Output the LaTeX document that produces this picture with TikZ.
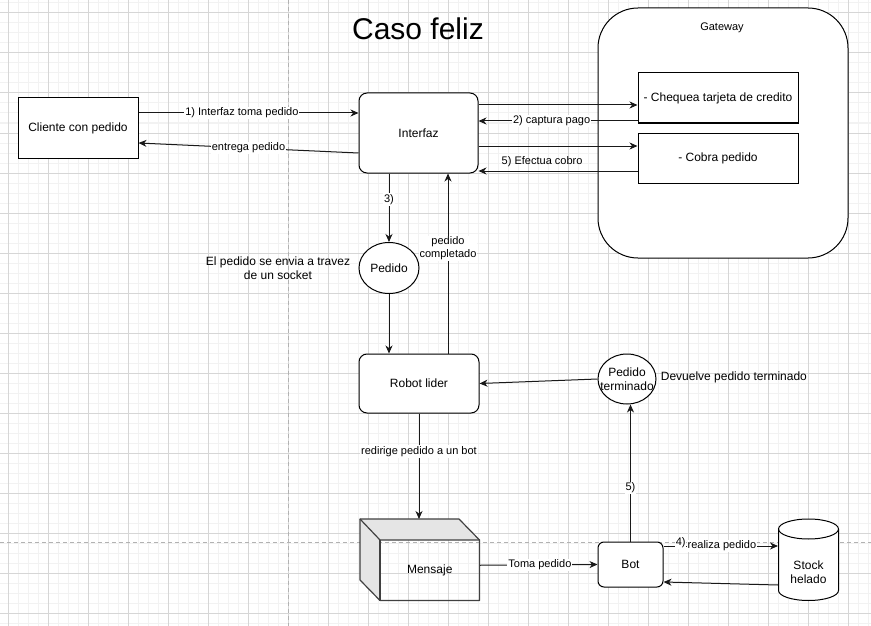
\documentclass[tikz,border=0pt]{standalone}
\usepackage{fontspec}
\setmainfont{Liberation Sans}
\usetikzlibrary{arrows.meta,shapes.geometric}
\begin{document}
\begin{tikzpicture}[x=1pt,y=-1pt,line width=1pt,
  minorgrid/.style={draw=black!5,line width=1pt},
  majorgrid/.style={draw=black!16,line width=1pt},
  pagebreak/.style={draw=black!30,line width=1pt,dash pattern=on 4pt off 3pt},
  txt/.style={font=\fontsize{12}{14}\selectfont,text=black},
  small/.style={font=\fontsize{11}{13}\selectfont,text=black},
  sqbox/.style={txt,draw=black,fill=white,inner sep=0pt},
  rbox/.style={sqbox,rounded corners=8pt},
  oval/.style={draw=black,fill=white,ellipse,inner sep=0pt},
  flow/.style={draw=black!90,-{Stealth[length=8pt,width=7pt,inset=2.5pt]}},
  elab/.style={small,fill=white,inner sep=1pt}]
\useasboundingbox (0,0) rectangle (871,626);
\fill[white] (0,0) rectangle (871,626);
% grid
\foreach \x in {8,18,...,868} \draw[minorgrid] (\x,0) -- (\x,626);
\foreach \y in {3,13,...,623} \draw[minorgrid] (0,\y) -- (871,\y);
\foreach \x in {8,48,...,868} \draw[majorgrid] (\x,0) -- (\x,626);
\foreach \y in {13,53,...,613} \draw[majorgrid] (0,\y) -- (871,\y);
\draw[pagebreak] (288,0) -- (288,626);
\draw[pagebreak] (0,542) -- (871,542);

% title
\node[font=\fontsize{30}{34}\selectfont] (title) at (418,29) {Caso feliz};

% nodes
\node[sqbox,minimum width=120pt,minimum height=60pt] (cli) at (78,128) {Cliente con pedido};
\node[rbox,minimum width=119pt,minimum height=80pt] (intf) at (418.5,133) {Interfaz};
\node[sqbox,rounded corners=40pt,minimum width=250pt,minimum height=250pt] (gw) at (723,133) {};
\node[small] (gwl) at (722,28) {Gateway};
\node[sqbox,minimum width=160pt,minimum height=50pt] (cheq) at (718,98) {- Chequea tarjeta de credito};
\node[sqbox,minimum width=160pt,minimum height=50pt] (cobra) at (718,158) {- Cobra pedido};
\node[oval,minimum width=60pt,minimum height=51pt,txt] (ped) at (389,268) {Pedido};
\node[txt,align=center] (sock) at (278,268) {El pedido se envia a travez\\de un socket};
\node[rbox,minimum width=120pt,minimum height=59pt] (robot) at (419,383.5) {Robot lider};
\node[oval,minimum width=58pt,minimum height=50pt,
  label={[txt,align=center]center:Pedido\\terminado}] (pterm) at (627,379) {};
\node[txt,anchor=west] (dev) at (657,377) {Devuelve pedido terminado};

% cube Mensaje
\fill[black!10] (360,519) -- (459,519) -- (479.5,540) -- (380,540) -- (380,600.5) -- (360,580) -- cycle;
\draw[black!75,line width=1.2pt,line join=round] (360,519) -- (459,519) -- (479.5,540) -- (479.5,600.5) -- (380,600.5) -- (360,580) -- cycle;
\draw[black!75,line width=1.2pt] (360,519) -- (380,540) -- (479.5,540);
\draw[black!75,line width=1.2pt] (380,540) -- (380,600.5);
\node[txt,minimum width=99.5pt,minimum height=60.5pt,inner sep=0pt] (msg) at (429.75,570.25) {Mensaje};
\coordinate (mtop) at (419,519);

\node[rbox,rounded corners=6pt,minimum width=65pt,minimum height=45pt] (bot) at (630.5,564.5) {Bot};

% cylinder Stock
\fill[white] (778.5,529) -- (778.5,590.5) arc[start angle=180,end angle=360,x radius=30pt,y radius=10pt] -- (838.5,529) arc[start angle=0,end angle=180,x radius=30pt,y radius=10pt] -- cycle;
\draw (778.5,529) -- (778.5,590.5) arc[start angle=180,end angle=360,x radius=30pt,y radius=10pt] -- (838.5,529);
\draw (808.5,529) ellipse[x radius=30pt,y radius=10pt];
\node[txt,minimum width=60pt,minimum height=82pt,inner sep=0pt,align=center] (stock) at (808.5,560) {};
\node[txt,align=center] (stockl) at (808.5,572) {Stock\\helado};

% connectors
\draw[flow] ([yshift=15pt]cli.east) -- node[elab,pos=0.47]{1) Interfaz toma pedido} ([yshift=20pt]intf.west);
\draw[flow] ([yshift=-20pt]intf.west) -- node[elab,pos=0.5]{entrega pedido} ([yshift=-15pt]cli.east);
\draw[flow] ([yshift=28pt]intf.east) -- ([yshift=-7pt]cheq.west);
\draw[flow] ([yshift=-23pt]cheq.west) -- node[elab,pos=0.54]{2) captura pago} ([yshift=12pt]intf.east);
\draw[flow] ([yshift=-13pt]intf.east) -- ([yshift=12pt]cobra.west);
\draw[flow] ([yshift=-13pt]cobra.west) -- node[small,pos=0.6,above=0pt]{5) Efectua cobro} ([yshift=-38pt]intf.east);
\draw[flow] ([xshift=-29.5pt]intf.south) -- node[elab,pos=0.38]{3)} (ped.north);
\draw[flow] (ped.south) -- ([xshift=-30pt]robot.north);
\draw[flow] ([xshift=29pt]robot.north) -- node[elab,align=center,pos=0.585]{pedido\\completado} ([xshift=29.5pt]intf.south);
\draw[flow] (pterm.west) -- (robot.east);
\draw[flow] (robot.south) -- node[elab,pos=0.36]{redirige pedido a un bot} (mtop);
\draw[flow] ([yshift=5pt]msg.east) -- node[elab,pos=0.51]{Toma pedido} (bot.west);
\draw[flow] (bot.north) -- node[elab,pos=0.39]{5)} (bot.north |- pterm.south);
\draw[flow] ([yshift=18.5pt]bot.east) -- node[elab,pos=0.51]{realiza pedido} node[small,fill=white,inner sep=0.5pt,pos=0.15,yshift=3pt]{4)} ([yshift=14pt]stock.west);
\draw[flow] ([yshift=-25pt]stock.west) -- ([yshift=-17.5pt]bot.east);
\end{tikzpicture}
\end{document}
